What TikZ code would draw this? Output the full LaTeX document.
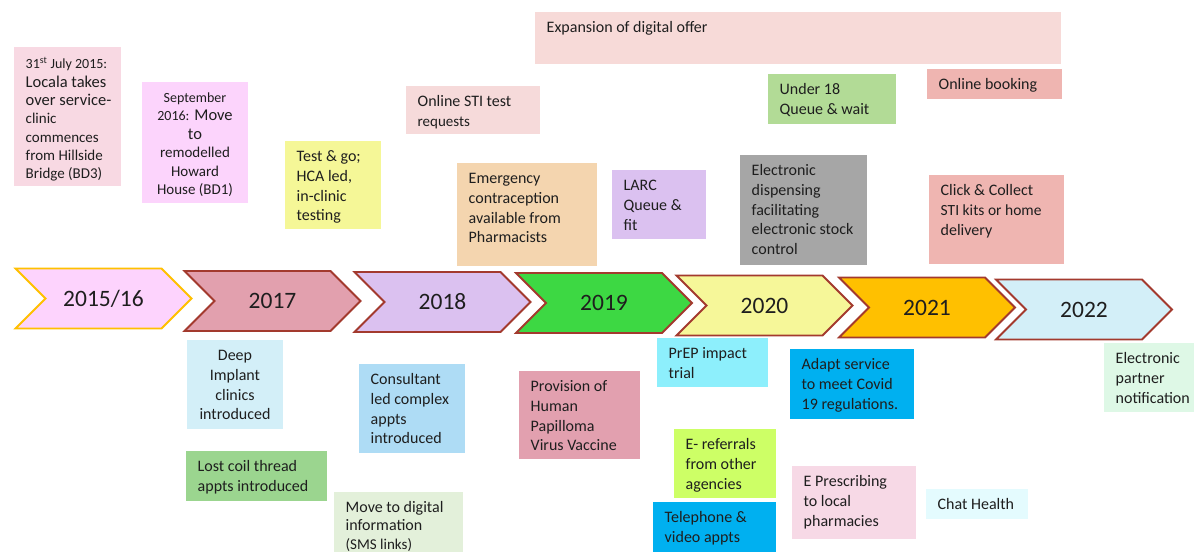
\documentclass[tikz,border=0pt]{standalone}
\usepackage{fontspec}
\setmainfont{Carlito}
\usepackage{xcolor}
\usetikzlibrary{shapes.symbols}

\definecolor{ink}{HTML}{1E1E1E}
\definecolor{chevedge}{HTML}{A33A2E}
\definecolor{gold}{HTML}{FFC000}
\definecolor{yrA}{HTML}{FDD3FD}
\definecolor{yrB}{HTML}{E2A0AE}
\definecolor{yrC}{HTML}{DBC1F0}
\definecolor{yrD}{HTML}{3DD843}
\definecolor{yrE}{HTML}{F6F799}
\definecolor{yrF}{HTML}{FFC000}
\definecolor{yrG}{HTML}{D3EFF8}
\definecolor{cLocala}{HTML}{F8D9E3}
\definecolor{cSept}{HTML}{FCD4FC}
\definecolor{cTest}{HTML}{F5F797}
\definecolor{cOnline}{HTML}{F6DADA}
\definecolor{cExpand}{HTML}{F7DAD8}
\definecolor{cEmerg}{HTML}{F4D5AF}
\definecolor{cLarc}{HTML}{DBC1F0}
\definecolor{cUnder}{HTML}{B2DB96}
\definecolor{cDisp}{HTML}{A6A6A6}
\definecolor{cBook}{HTML}{EFB5B1}
\definecolor{cDeep}{HTML}{D3EFF8}
\definecolor{cCoil}{HTML}{9BD58F}
\definecolor{cCons}{HTML}{AEDCF5}
\definecolor{cMove}{HTML}{E3F0DA}
\definecolor{cHpv}{HTML}{E2A0AF}
\definecolor{cPrep}{HTML}{8DEFFC}
\definecolor{cEref}{HTML}{CDFF66}
\definecolor{cBlue}{HTML}{00B0F0}
\definecolor{cPresc}{HTML}{F7D9E6}
\definecolor{cChat}{HTML}{E4FBFE}
\definecolor{cPartner}{HTML}{DEF8E6}

\newcommand{\smallfs}{\fontsize{15}{18.5}\selectfont}
% name, top left, width, height, fill, extra text options, text
\newcommand{\postit}[7]{%
  \node[notebox, fill=#5, minimum width=#3pt, minimum height=#4pt] (#1) at (#2) {};
  \node[notetext, #6] (#1-txt) at ([yshift=-6.9pt]#1.north west) {\strut #7};
}

\tikzset{
  notebox/.style={anchor=north west, inner sep=0pt, outer sep=0pt},
  notetext/.style={anchor=north west, inner sep=0pt, align=left, text=ink,
    font=\fontsize{16}{19.6}\selectfont, xshift=11.5pt},
  chevron/.style={signal, signal from=west, signal to=east, signal pointer angle=90,
    minimum width=176pt, minimum height=60pt, inner sep=0pt, line width=1.8pt,
    draw=chevedge, text=ink, font=\fontsize{23.5}{27}\selectfont},
}

\begin{document}
\begin{tikzpicture}[x=1pt, y=-1pt]
\fill[white] (0,0) rectangle (1194,552);
\useasboundingbox (0,0) rectangle (1194,552);

% years
\node[chevron, fill=yrA, draw=gold] (y2015) at (103.5,298.5) {2015/16};
\node[chevron, fill=yrB] (y2017) at (272.5,301) {2017};
\node[chevron, fill=yrC] (y2018) at (442.5,302) {2018};
\node[chevron, fill=yrD] (y2019) at (604,303) {2019};
\node[chevron, fill=yrE] (y2020) at (764.5,305.5) {2020};
\node[chevron, fill=yrF] (y2021) at (927,307.5) {2021};
\node[chevron, fill=yrG] (y2022) at (1084,309.5) {2022};

% above the line
\postit{locala}{14,47}{107}{139}{cLocala}{yshift=-2pt, font=\fontsize{16.5}{18.3}\selectfont}{%
  {\fontsize{14}{18.3}\selectfont 31\textsuperscript{st} July 2015:}\\Locala takes\\over service-\\%
  {\fontsize{15}{18.3}\selectfont clinic}\\{\fontsize{15}{18.3}\selectfont commences}\\%
  {\fontsize{15}{18.3}\selectfont from Hillside}\\{\fontsize{15}{18.3}\selectfont Bridge (BD3)}}
\postit{sept}{142,82}{106}{121}{cSept}{anchor=north, align=center, xshift=41.5pt, font=\fontsize{16.5}{18.5}\selectfont}{%
  {\fontsize{14}{18.5}\selectfont September}\\{\fontsize{14}{18.5}\selectfont 2016:} Move\\to\\%
  {\fontsize{15}{18.5}\selectfont remodelled}\\{\fontsize{15}{18.5}\selectfont Howard}\\%
  {\fontsize{15}{18.5}\selectfont House (BD1)}}
\postit{testgo}{285,141}{96}{88}{cTest}{}{Test \& go;\\HCA led,\\in-clinic\\testing}
\postit{onlinesti}{406,86}{134}{48}{cOnline}{}{Online STI test\\{\smallfs requests}}
\postit{expand}{535,12}{526}{52}{cExpand}{}{Expansion of digital offer}
\postit{emerg}{457,163}{140}{103}{cEmerg}{}{Emergency\\contraception\\available from\\Pharmacists}
\postit{larc}{612,170}{94}{69}{cLarc}{}{LARC\\Queue \&\\fit}
\postit{under}{768,74}{128}{50}{cUnder}{}{Under 18\\Queue \& wait}
\postit{dispense}{740,155}{127}{110}{cDisp}{}{Electronic\\dispensing\\facilitating\\electronic stock\\control}
\postit{booking}{927,69}{135}{30}{cBook}{}{Online booking}
\postit{collect}{929,175}{135}{89}{cBook}{}{Click \& Collect\\{\fontsize{15.5}{19.6}\selectfont STI kits or home}\\delivery}

% below the line
\postit{deep}{187,340}{96}{89}{cDeep}{anchor=north, align=center, xshift=36.5pt}{Deep\\Implant\\clinics\\introduced}
\postit{coil}{186,451}{141}{50}{cCoil}{}{Lost coil thread\\appts introduced}
\postit{consult}{359,364}{106}{89}{cCons}{}{Consultant\\led complex\\appts\\introduced}
\postit{digital}{334,492}{129}{60}{cMove}{font=\fontsize{16}{18.5}\selectfont}{Move to digital\\information\\{\smallfs (SMS links)}}
\postit{hpv}{519,371}{121}{88}{cHpv}{}{Provision of\\Human\\Papilloma\\Virus Vaccine}
\postit{prep}{657,338}{111}{49}{cPrep}{}{PrEP impact\\trial}
\postit{eref}{674,429}{102}{69}{cEref}{}{E- referrals\\from other\\agencies}
\postit{phone}{653,502}{123}{50}{cBlue}{}{Telephone \&\\video appts}
\postit{covid}{790,349}{124}{70}{cBlue}{}{Adapt service\\to meet Covid\\19 regulations.}
\postit{presc}{792,466}{124}{73}{cPresc}{}{E Prescribing\\to local\\pharmacies}
\postit{chat}{926,489}{102}{30}{cChat}{}{Chat Health}
\postit{partner}{1104,343}{90}{69}{cPartner}{}{Electronic\\partner\\notification}
\end{tikzpicture}
\end{document}
